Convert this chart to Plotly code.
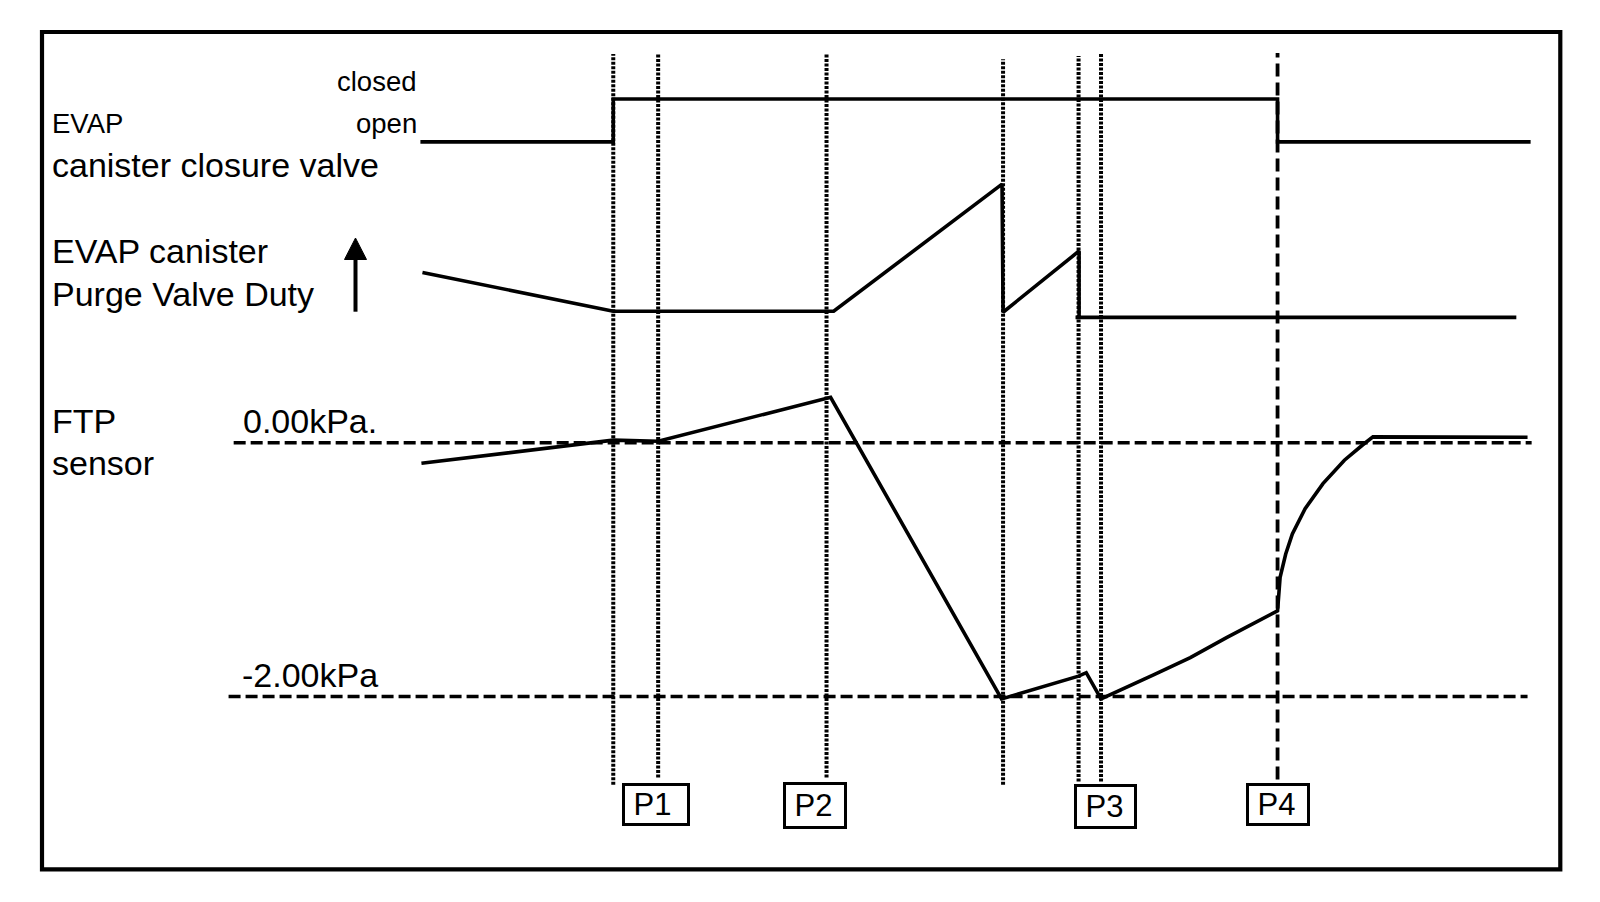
import plotly.graph_objects as go

# ---------------- data (time in arbitrary units along the diagram) ----------------
# EVAP canister closure valve state (0 = open, 1 = closed)
valve_t = [412, 601, 1252, 1500]
valve_state = [0, 1, 0, 0]

# EVAP canister purge valve duty (arbitrary %)
purge_t = [414, 601, 817, 982, 983, 1057.5, 1057.5, 1054, 1486]
purge_duty = [12.6, 5.0, 5.0, 29.9, 4.8, 16.8, 3.8, 3.8, 3.8]

# FTP sensor pressure (kPa)
ftp_t = [413, 601, 645, 814, 981.5, 1057, 1064.5, 1079, 1131.5, 1166.5, 1202,
         1252, 1254.5, 1260, 1266.5, 1279, 1296.5, 1317.5, 1335, 1345.5, 1497]
ftp_kpa = [-0.161, 0.021, 0.013, 0.359, -2.02, -1.840, -1.813, -2.02, -1.826, -1.694, -1.536,
           -1.325, -1.061, -0.877, -0.718, -0.520, -0.322, -0.137, -0.019, 0.047, 0.044]

# reference pressure levels (kPa) and their drawn extents
ref_levels = [0.0, -2.0]
ref_t0 = [229, 224]
ref_t1 = [1501, 1497]
ref_labels = ["0.00kPa.", "-2.00kPa"]

# event markers
event_t = [601, 645, 810, 983, 1057, 1079]
p4_t = 1252
p_labels = ["P1", "P2", "P3", "P4"]
p_label_t = [643, 799, 1083, 1252.5]

# ---------------- layout helpers ----------------
W, H = 1600, 902
DH = 884.0  # axis frame reference height

def yrange(va, pa, vb, pb):
    s = (pb - pa) / (va - vb)
    hi = va + pa / s
    return [hi - DH / s, hi]

def py(ypx):
    return 1 - ypx / H

def px(xpx):
    return xpx / W

BLACK = "black"
FONT = "Liberation Sans, Arial, sans-serif"
LW = 3.6

fig = go.Figure()

fig.add_trace(go.Scatter(x=valve_t, y=valve_state, mode="lines", line_shape="hv",
                         line=dict(color=BLACK, width=LW), yaxis="y", hoverinfo="skip"))
fig.add_trace(go.Scatter(x=purge_t, y=purge_duty, mode="lines",
                         line=dict(color=BLACK, width=LW), yaxis="y2", hoverinfo="skip"))
for lv, a, b in zip(ref_levels, ref_t0, ref_t1):
    fig.add_trace(go.Scatter(x=[a, b], y=[lv, lv], mode="lines",
                             line=dict(color=BLACK, width=3.5, dash="12px,5px"),
                             yaxis="y3", hoverinfo="skip"))
fig.add_trace(go.Scatter(x=ftp_t, y=ftp_kpa, mode="lines",
                         line=dict(color=BLACK, width=LW), yaxis="y3", hoverinfo="skip"))

shapes = []
# frame
shapes.append(dict(type="rect", xref="paper", yref="paper",
                   x0=px(42), x1=px(1560.3), y0=py(869.3), y1=py(32),
                   line=dict(color=BLACK, width=4.2), fillcolor="rgba(0,0,0,0)"))
# dotted event lines
tops = [53, 53, 53, 58, 55, 52]
bots = [769, 762, 762, 769, 766, 766]
for t, tp, bt in zip(event_t, tops, bots):
    shapes.append(dict(type="line", xref="x", yref="paper", x0=t, x1=t,
                       y0=1 - bt / DH, y1=1 - tp / DH,
                       line=dict(color=BLACK, width=4, dash="3px,1.5px")))
# dashed P4 line
shapes.append(dict(type="line", xref="x", yref="paper", x0=p4_t, x1=p4_t,
                   y0=1 - 764 / DH, y1=1 - 52 / DH,
                   line=dict(color=BLACK, width=3.8, dash="13px,6px")))
# up arrow beside purge duty label
shapes.append(dict(type="line", xref="paper", yref="paper",
                   x0=px(355.5), x1=px(355.5), y0=py(311.7), y1=py(256),
                   line=dict(color=BLACK, width=4)))
shapes.append(dict(type="path", xref="paper", yref="paper",
                   path=f"M {px(344.5)} {py(259.5)} L {px(366.5)} {py(259.5)} L {px(355.5)} {py(238)} Z",
                   fillcolor=BLACK, line=dict(color=BLACK, width=1)))

annotations = []

def label(text, x, baseline, size, anchor="left"):
    annotations.append(dict(text=text, xref="paper", yref="paper",
                            x=px(x), y=py(baseline - 0.3465 * size),
                            xanchor=anchor, yanchor="middle", showarrow=False,
                            font=dict(family=FONT, size=size, color=BLACK)))

BIG = 34
label("closed", 419, 91, 27.5, "right")
label("open", 419, 133.3, 27.5, "right")
label("EVAP", 50, 133.5, 27.5)
label("canister closure valve", 50, 177, BIG)
label("EVAP canister", 50, 263, BIG)
label("Purge Valve Duty", 50, 305.5, BIG)
label("FTP", 50, 432.5, BIG)
label("sensor", 50, 474.5, BIG)
label(ref_labels[0], 241, 432.5, BIG)
label(ref_labels[1], 240, 687, BIG)

box_w = [67.9, 64.3, 63.3, 64.3]
box_h = [43.4, 46.6, 44.9, 43.4]
box_cy = [788.8, 789.9, 790.6, 788.8]
for lab, t, bw, bh, cy in zip(p_labels, p_label_t, box_w, box_h, box_cy):
    annotations.append(dict(text="\u00a0" + lab, xref="x", yref="paper",
                            x=t, y=1 - cy / DH, xanchor="center", yanchor="middle",
                            showarrow=False, align="left",
                            width=bw - 6, height=bh - 6, borderpad=0,
                            bordercolor=BLACK, borderwidth=3, bgcolor="white",
                            font=dict(family=FONT, size=31, color=BLACK)))

hidden = dict(visible=False, fixedrange=True, showgrid=False, zeroline=False)
fig.update_layout(
    width=W, height=H,
    margin=dict(l=0, r=0, t=0, b=0),
    paper_bgcolor="white", plot_bgcolor="white",
    showlegend=False,
    xaxis=dict(range=[0, 1568], **hidden),
    yaxis=dict(range=yrange(1, 97, 0, 139), **hidden),
    yaxis2=dict(range=yrange(10, 280, 0, 330), overlaying="y", **hidden),
    yaxis3=dict(range=yrange(0, 434, -2, 682.5), overlaying="y", **hidden),
    shapes=shapes,
    annotations=annotations,
)

fig.write_html("out.html", config={"displayModeBar": False},
               post_script="document.body.style.margin='0px';document.body.style.overflow='hidden';")
